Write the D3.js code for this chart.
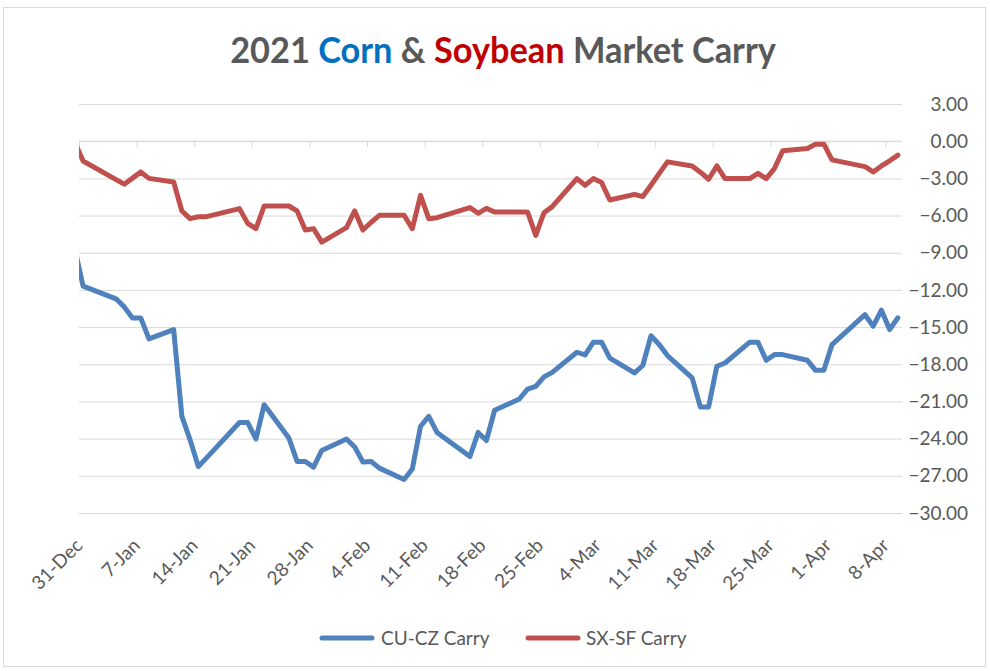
<!DOCTYPE html>
<html>
<head>
<meta charset="utf-8">
<script src="https://cdn.jsdelivr.net/npm/d3@7"></script>
<style>
  html, body { margin: 0; padding: 0; background: #fff; }
  svg { display: block; }
</style>
</head>
<body>
<svg id="chart" width="990" height="671"></svg>
<script>
// ---------------- DATA ----------------
const dates = [
"2020-12-30","2020-12-31",
"2021-01-04","2021-01-05","2021-01-06","2021-01-07","2021-01-08",
"2021-01-11","2021-01-12","2021-01-13","2021-01-14","2021-01-15",
"2021-01-19","2021-01-20","2021-01-21","2021-01-22",
"2021-01-25","2021-01-26","2021-01-27","2021-01-28","2021-01-29",
"2021-02-01","2021-02-02","2021-02-03","2021-02-04","2021-02-05",
"2021-02-08","2021-02-09","2021-02-10","2021-02-11","2021-02-12",
"2021-02-16","2021-02-17","2021-02-18","2021-02-19",
"2021-02-22","2021-02-23","2021-02-24","2021-02-25","2021-02-26",
"2021-03-01","2021-03-02","2021-03-03","2021-03-04","2021-03-05",
"2021-03-08","2021-03-09","2021-03-10","2021-03-11","2021-03-12",
"2021-03-15","2021-03-16","2021-03-17","2021-03-18","2021-03-19",
"2021-03-22","2021-03-23","2021-03-24","2021-03-25","2021-03-26",
"2021-03-29","2021-03-30","2021-03-31","2021-04-01",
"2021-04-05","2021-04-06","2021-04-07","2021-04-08","2021-04-09"
];

const cuCzCarry = [
-8.7, -11.7,
-12.72, -13.37, -14.26, -14.26, -15.95,
-15.2, -22.2, -24.1, -26.25, -25.55,
-22.7, -22.7, -24.03, -21.26,
-23.95, -25.84, -25.84, -26.3, -24.95,
-24.03, -24.68, -25.88, -25.84, -26.38,
-27.3, -26.45, -23.0, -22.2, -23.5,
-25.44, -23.5, -24.15, -21.71,
-20.8, -20.0, -19.78, -19.02, -18.65,
-17.03, -17.25, -16.22, -16.22, -17.5,
-18.7, -18.1, -15.7, -16.4, -17.3,
-19.1, -21.45, -21.45, -18.16, -17.9,
-16.22, -16.22, -17.68, -17.22, -17.22,
-17.68, -18.49, -18.49, -16.41,
-14.0, -14.93, -13.64, -15.2, -14.25
];

const sxSfCarry = [
-0.1, -1.6,
-3.1, -3.47, -2.98, -2.48, -3.0,
-3.29, -5.63, -6.25, -6.1, -6.09,
-5.44, -6.63, -7.06, -5.23,
-5.23, -5.63, -7.17, -7.06, -8.14,
-6.98, -5.63, -7.17, -6.54, -5.98,
-5.98, -7.06, -4.37, -6.25, -6.17,
-5.36, -5.82, -5.42, -5.71,
-5.71, -5.71, -7.6, -5.77, -5.28,
-3.02, -3.56, -3.02, -3.34, -4.75,
-4.29, -4.47, -3.55, -2.6, -1.67,
-2.0, -2.5, -3.07, -2.0, -3.02,
-3.02, -2.6, -3.02, -2.21, -0.78,
-0.59, -0.24, -0.24, -1.51,
-2.05, -2.48, -2.0, -1.58, -1.13
];

const xTickDates = ["2020-12-31","2021-01-07","2021-01-14","2021-01-21","2021-01-28",
  "2021-02-04","2021-02-11","2021-02-18","2021-02-25","2021-03-04","2021-03-11",
  "2021-03-18","2021-03-25","2021-04-01","2021-04-08"];
const yTicks = [3, 0, -3, -6, -9, -12, -15, -18, -21, -24, -27, -30];
const xDomain = ["2020-12-31", "2021-04-10"];
const yDomain = [-30, 3];

const seriesNames = ["CU-CZ Carry", "SX-SF Carry"];
const seriesColors = ["#4F81BD", "#C0504D"];

// ---------------- CHART ----------------
const parse = d3.utcParse("%Y-%m-%d");
const fmt = d3.utcFormat("%-d-%b");
const svg = d3.select("#chart");
const FONT = "Lato, 'Open Sans', 'DejaVu Sans', sans-serif";

const plot = { left: 79, right: 902, top: 104, bottom: 513 };

const x = d3.scaleUtc().domain(xDomain.map(parse)).range([plot.left, plot.right]);
const y = d3.scaleLinear().domain(yDomain).range([plot.bottom, plot.top]);

// chart border
svg.append("rect").attr("x", 3.5).attr("y", 7.5).attr("width", 982).attr("height", 659)
  .attr("fill", "#fff").attr("stroke", "#D9D9D9").attr("stroke-width", 1);

// title (condensed look: larger size, squeezed horizontally to the reference width)
const titleG = svg.append("g");
const title = titleG.append("text").attr("x", 0).attr("y", 0)
  .attr("text-anchor", "middle").attr("font-family", FONT).attr("font-weight", 700)
  .attr("font-size", 36).attr("fill", "#595959");
title.append("tspan").text("2021 ");
title.append("tspan").attr("fill", "#0070C0").text("Corn");
title.append("tspan").text(" & ");
title.append("tspan").attr("fill", "#C00000").text("Soybean");
title.append("tspan").text(" Market Carry");
const tw = title.node().getComputedTextLength();
titleG.attr("transform", `translate(503,63) scale(${546 / tw},1)`);

// gridlines (y axis on right, labels only)
const yAxis = d3.axisRight(y).tickValues(yTicks).tickSize(plot.right - plot.left)
  .tickFormat(d3.format(".2f"));
const gy = svg.append("g").attr("transform", `translate(${plot.left},0)`).call(yAxis);
gy.select(".domain").remove();
gy.selectAll(".tick line").attr("stroke", "#D9D9D9").attr("stroke-width", 1);
gy.selectAll(".tick text")
  .attr("x", 968 - plot.left).attr("text-anchor", "end")
  .attr("font-family", FONT).attr("font-size", 19).attr("fill", "#595959");

// x axis line at 0 with tick marks downward
const xAxis = d3.axisBottom(x).tickValues(xTickDates.map(parse)).tickSize(6).tickFormat("");
const gx = svg.append("g").attr("transform", `translate(0,${y(0)})`).call(xAxis);
gx.select(".domain").attr("stroke", "#D9D9D9").attr("d", `M${plot.left},0H${plot.right}`);
gx.selectAll(".tick line").attr("stroke", "#D9D9D9");

// x labels at bottom, rotated
const gxl = svg.append("g");
gxl.selectAll("text").data(xTickDates.map(parse)).join("text")
  .attr("transform", d => `translate(${x(d)},542) rotate(-45)`)
  .attr("text-anchor", "end").attr("dy", "0.35em")
  .attr("font-family", FONT).attr("font-size", 19).attr("fill", "#595959")
  .text(d => fmt(d));

// clip
svg.append("clipPath").attr("id", "clip").append("rect")
  .attr("x", plot.left).attr("y", plot.top - 20)
  .attr("width", plot.right - plot.left + 4).attr("height", plot.bottom - plot.top + 40);

const px = d => x(d3.utcHour.offset(parse(d), 12));
const seriesData = [cuCzCarry, sxSfCarry];
const line = d3.line().x(d => px(d[0])).y(d => y(d[1]));

const gl = svg.append("g").attr("clip-path", "url(#clip)");
seriesData.forEach((vals, i) => {
  gl.append("path")
    .datum(dates.map((d, j) => [d, vals[j]]))
    .attr("d", line)
    .attr("fill", "none").attr("stroke", seriesColors[i])
    .attr("stroke-width", 5).attr("stroke-linejoin", "round").attr("stroke-linecap", "round");
});

// legend
const legendItems = [
  { x1: 322, x2: 372, tx: 381 },
  { x1: 528, x2: 578, tx: 586 }
];
const gLeg = svg.append("g");
legendItems.forEach((it, i) => {
  gLeg.append("line").attr("x1", it.x1).attr("x2", it.x2).attr("y1", 638).attr("y2", 638)
    .attr("stroke", seriesColors[i]).attr("stroke-width", 5).attr("stroke-linecap", "round");
  gLeg.append("text").attr("x", it.tx).attr("y", 638).attr("dy", "0.35em")
    .attr("font-family", FONT).attr("font-size", 19).attr("fill", "#595959")
    .text(seriesNames[i]);
});
</script>
</body>
</html>
